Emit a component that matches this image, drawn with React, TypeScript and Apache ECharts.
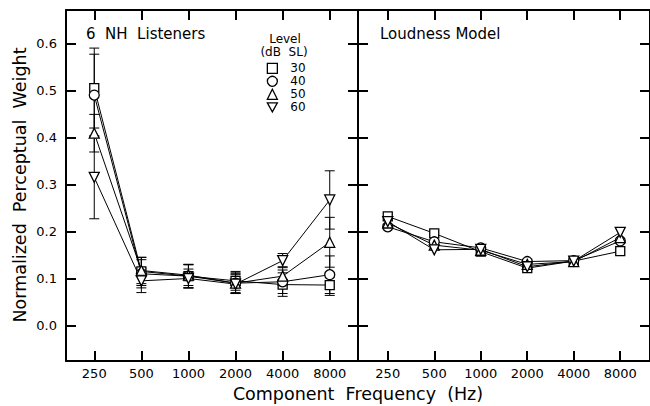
import React, { useEffect, useRef } from "react";
import * as echarts from "echarts";

const freqLabels = ["250", "500", "1000", "2000", "4000", "8000"];
const levels = ["30", "40", "50", "60"];
const yTicks = [0, 0.1, 0.2, 0.3, 0.4, 0.5, 0.6];

// 6 NH listeners: mean weights and error half-widths
const nh30 = [0.505, 0.115, 0.105, 0.095, 0.087, 0.086];
const nh40 = [0.490, 0.110, 0.105, 0.090, 0.093, 0.108];
const nh50 = [0.409, 0.117, 0.107, 0.090, 0.105, 0.177];
const nh60 = [0.315, 0.095, 0.100, 0.088, 0.138, 0.267];
const nhErr30 = [0.085, 0.030, 0.025, 0.020, 0.025, 0.022];
const nhErr40 = [0.087, 0.030, 0.025, 0.022, 0.025, 0.040];
const nhErr50 = [0.040, 0.028, 0.022, 0.020, 0.020, 0.053];
const nhErr60 = [0.088, 0.025, 0.020, 0.020, 0.015, 0.062];

// Loudness model weights
const m30 = [0.232, 0.196, 0.157, 0.122, 0.137, 0.158];
const m40 = [0.210, 0.178, 0.165, 0.136, 0.138, 0.180];
const m50 = [0.218, 0.171, 0.160, 0.130, 0.136, 0.187];
const m60 = [0.221, 0.161, 0.162, 0.125, 0.137, 0.198];

const FONT = "DejaVu Sans";
const downTri = "path://M0,0L10,0L5,9Z";
const symbols = ["rect", "circle", "triangle", downTri];
const symbolSizes = [9, 10, 10, 10];

const nhMeans = [nh30, nh40, nh50, nh60];
const nhErrs = [nhErr30, nhErr40, nhErr50, nhErr60];
const modelMeans = [m30, m40, m50, m60];

export default function App() {
  const ref = useRef<HTMLDivElement>(null);
  useEffect(() => {
    if (!ref.current) return;
    const chart = echarts.init(ref.current, null, { renderer: "svg" });
    const idx = [0, 1, 2, 3, 4, 5];
    const frame = { lineStyle: { color: "#000", width: 2 } };
    const tick = { show: true, inside: true, length: 10, lineStyle: { color: "#000", width: 2 } };

    const mkX = (grid: number, pos: "bottom" | "top", labels: boolean, min: number, max: number) => ({
      type: "value",
      gridIndex: grid,
      position: pos,
      min,
      max,
      axisLine: { show: true, onZero: false, ...frame },
      axisTick: { ...tick, customValues: idx },
      axisLabel: {
        show: labels,
        customValues: idx,
        formatter: (v: number) => freqLabels[Math.round(v)] ?? "",
        color: "#000",
        fontSize: 13,
        fontFamily: FONT,
        margin: 6,
      },
      splitLine: { show: false },
    });
    const mkY = (grid: number, pos: "left" | "right", labels: boolean) => ({
      type: "value",
      gridIndex: grid,
      position: pos,
      min: -0.0755,
      max: 0.671,
      axisLine: { show: true, onZero: false, ...frame },
      axisTick: { ...tick, customValues: yTicks },
      axisLabel: {
        show: labels,
        customValues: yTicks,
        formatter: (v: number) => v.toFixed(1),
        color: "#000",
        fontSize: 13,
        fontFamily: FONT,
        margin: 9,
      },
      splitLine: { show: false },
    });

    const series: any[] = [];
    // error bars (left panel)
    nhMeans.forEach((arr, s) => {
      series.push({
        type: "custom",
        xAxisIndex: 0,
        yAxisIndex: 0,
        z: 1,
        silent: true,
        encode: { x: 0, y: 1 },
        data: arr.map((v, i) => [i, v, nhErrs[s][i]]),
        renderItem: (params: any, api: any) => {
          const x = api.value(0);
          const y = api.value(1);
          const e = api.value(2);
          const t = api.coord([x, y + e]);
          const b = api.coord([x, y - e]);
          const st = { stroke: "#000", lineWidth: 1 };
          return {
            type: "group",
            children: [
              { type: "line", shape: { x1: t[0], y1: t[1], x2: b[0], y2: b[1] }, style: st },
              { type: "line", shape: { x1: t[0] - 5, y1: t[1], x2: t[0] + 5, y2: t[1] }, style: st },
              { type: "line", shape: { x1: b[0] - 5, y1: b[1], x2: b[0] + 5, y2: b[1] }, style: st },
            ],
          };
        },
      });
    });
    const lineSeries = (arr: number[], s: number, grid: number) => ({
      type: "line",
      name: levels[s],
      xAxisIndex: grid * 2,
      yAxisIndex: grid * 2,
      z: 3,
      data: arr.map((v, i) => [i, v]),
      symbol: symbols[s],
      symbolSize: symbolSizes[s],
      showAllSymbol: true,
      lineStyle: { color: "#000", width: 1 },
      itemStyle: { color: "#fff", borderColor: "#000", borderWidth: 1.3 },
      emphasis: { disabled: true },
    });
    nhMeans.forEach((arr, s) => series.push(lineSeries(arr, s, 0)));
    modelMeans.forEach((arr, s) => series.push(lineSeries(arr, s, 1)));

    chart.setOption({
      animation: false,
      backgroundColor: "#fff",
      grid: [
        { left: 66, top: 10, width: 292, height: 351 },
        { left: 358, top: 10, width: 294, height: 351 },
      ],
      xAxis: [
        mkX(0, "bottom", true, -0.6, 5.6),
        mkX(0, "top", false, -0.6, 5.6),
        mkX(1, "bottom", true, -0.64, 5.64),
        mkX(1, "top", false, -0.64, 5.64),
      ],
      yAxis: [mkY(0, "left", true), mkY(0, "right", false), mkY(1, "left", false), mkY(1, "right", false)],
      legend: {
        data: levels.map((n, i) => ({ name: n, icon: symbols[i] })),
        orient: "vertical",
        left: 266.7,
        top: 61.8,
        padding: 0,
        itemWidth: 10,
        itemHeight: 10,
        itemGap: 0,
        selectedMode: false,
        itemStyle: { color: "#fff", borderColor: "#000", borderWidth: 1.3 },
        textStyle: { fontSize: 12, color: "#000", fontFamily: FONT, padding: [0, 0, 0, 8], lineHeight: 13 },
      },
      graphic: [
        { type: "text", left: 86, top: 26, style: { text: "6  NH  Listeners", font: `15px "${FONT}"`, fill: "#000" } },
        { type: "text", left: 380, top: 26, style: { text: "Loudness Model", font: `15px "${FONT}"`, fill: "#000" } },
        { type: "text", x: 285, y: 38.8, style: { text: "Level", font: `12px "${FONT}"`, lineHeight: 12, fill: "#000", align: "center", verticalAlign: "middle" } },
        { type: "text", x: 284, y: 51.8, style: { text: "(dB  SL)", font: `12px "${FONT}"`, lineHeight: 12, fill: "#000", align: "center", verticalAlign: "middle" } },
        { type: "text", x: 358, y: 394, style: { text: "Component  Frequency  (Hz)", font: `17.5px "${FONT}"`, fill: "#000", align: "center", verticalAlign: "middle" } },
        { type: "text", x: 20, y: 185, rotation: Math.PI / 2, style: { text: "Normalized  Perceptual  Weight", font: `17.5px "${FONT}"`, fill: "#000", align: "center", verticalAlign: "middle" } },
      ],
      series,
    });
    return () => chart.dispose();
  }, []);
  return <div ref={ref} style={{ position: "absolute", left: 0, top: 0, width: 650, height: 406 }} />;
}
